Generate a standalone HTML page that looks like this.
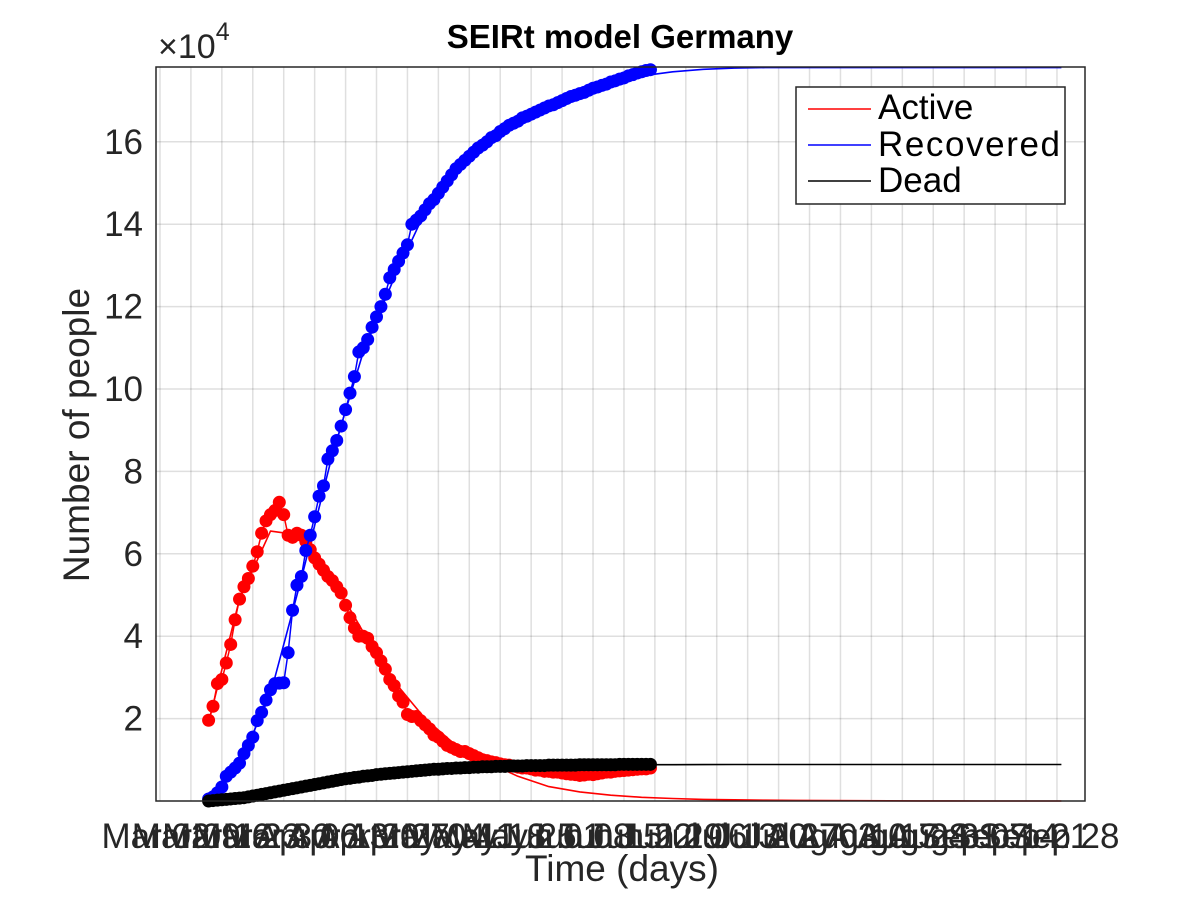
<!DOCTYPE html>
<html><head><meta charset="utf-8"><style>
body{margin:0;background:#fff;}
svg{display:block;font-family:"Liberation Sans",Arial,sans-serif;}
</style></head><body>
<svg id="chart" width="1200" height="900" viewBox="0 0 1200 900" xmlns="http://www.w3.org/2000/svg">
<rect width="1200" height="900" fill="#fff"/>
<g id="grid"></g>
<g id="series"></g>
<rect x="156" y="67" width="929" height="734" fill="none" stroke="#262626" stroke-width="1.5"/>
<g id="ticks"></g>
<text x="620" y="48" text-anchor="middle" font-size="33" font-weight="bold" fill="#000">SEIRt model Germany</text>
<text x="158" y="58" font-size="34" fill="#262626">×10<tspan dy="-18" font-size="25">4</tspan></text>
<text x="622" y="881" text-anchor="middle" font-size="37" fill="#262626">Time (days)</text>
<text transform="translate(89,435) rotate(-90)" text-anchor="middle" font-size="37" fill="#262626">Number of people</text>
<g>
<rect x="796" y="87" width="269" height="117" fill="#fff" stroke="#262626" stroke-width="1.5"/>
<line x1="808" y1="109" x2="871" y2="109" stroke="#f00" stroke-width="1.5"/>
<text x="878" y="119" font-size="35" fill="#000">Active</text>
<line x1="808" y1="145" x2="871" y2="145" stroke="#00f" stroke-width="1.5"/>
<text x="878" y="156" font-size="35" fill="#000" textLength="182">Recovered</text>
<line x1="808" y1="181" x2="871" y2="181" stroke="#000" stroke-width="1.5"/>
<text x="878" y="192" font-size="35" fill="#000">Dead</text>
</g>
</svg>
<script>
// observed data: day index = obsStartDay + i, values in units of 1e4 people
const obsStartDay = 11;
const activeObs = [1.96,2.3,2.85,2.95,3.35,3.8,4.4,4.9,5.2,5.4,5.7,6.05,6.5,6.8,6.95,7.05,7.25,6.95,6.45,6.4,6.5,6.45,6.3,6.1,5.9,5.75,5.6,5.45,5.35,5.2,5.05,4.75,4.45,4.2,4.0,4.0,3.95,3.75,3.6,3.4,3.2,2.95,2.8,2.55,2.4,2.1,2.05,2.05,1.95,1.85,1.75,1.6,1.55,1.45,1.35,1.3,1.25,1.2,1.2,1.15,1.1,1.05,1.0,0.98,0.95,0.93,0.9,0.88,0.87,0.85,0.82,0.8,0.8,0.78,0.75,0.75,0.72,0.72,0.7,0.7,0.68,0.66,0.65,0.64,0.62,0.63,0.65,0.64,0.66,0.68,0.7,0.7,0.72,0.73,0.74,0.75,0.76,0.77,0.78,0.78,0.8];
const recoveredObs = [0.05,0.1,0.2,0.34,0.6,0.7,0.8,0.92,1.15,1.35,1.55,1.95,2.15,2.45,2.7,2.85,2.86,2.87,3.6,4.63,5.24,5.45,6.08,6.45,6.9,7.4,7.65,8.3,8.5,8.75,9.1,9.5,9.9,10.3,10.9,11.0,11.2,11.5,11.75,12.0,12.3,12.7,12.9,13.1,13.3,13.5,14.0,14.1,14.2,14.35,14.5,14.6,14.75,14.9,15.05,15.2,15.35,15.45,15.55,15.65,15.75,15.85,15.92,16.0,16.1,16.15,16.25,16.32,16.4,16.45,16.5,16.58,16.62,16.67,16.72,16.77,16.82,16.87,16.9,16.95,17.0,17.05,17.1,17.13,17.17,17.2,17.25,17.3,17.33,17.37,17.4,17.45,17.48,17.52,17.55,17.6,17.63,17.67,17.7,17.73,17.75];
const deadObs = [0.0,0.01,0.02,0.03,0.04,0.05,0.06,0.07,0.08,0.1,0.12,0.14,0.16,0.18,0.2,0.22,0.24,0.26,0.28,0.3,0.32,0.34,0.36,0.38,0.4,0.42,0.44,0.46,0.48,0.5,0.52,0.54,0.55,0.57,0.58,0.6,0.61,0.62,0.64,0.65,0.66,0.67,0.68,0.69,0.7,0.71,0.72,0.73,0.74,0.75,0.76,0.77,0.77,0.78,0.79,0.79,0.8,0.8,0.81,0.81,0.82,0.82,0.83,0.83,0.83,0.84,0.84,0.84,0.85,0.85,0.85,0.85,0.86,0.86,0.86,0.86,0.86,0.87,0.87,0.87,0.87,0.87,0.87,0.87,0.88,0.88,0.88,0.88,0.88,0.88,0.88,0.88,0.88,0.89,0.89,0.89,0.89,0.89,0.89,0.89,0.89];
// model curves
const modelDays = [11,18,25,32,39,46,53,60,67,74,81,88,95,102,109,116,123,130,137,144,151,158,165,172,179,186,193,200,204];
const activeModel = [1.9,4.9,6.55,6.45,5.4,4.1,2.9,2.0,1.35,0.95,0.6,0.35,0.22,0.14,0.09,0.06,0.04,0.03,0.02,0.015,0.01,0.007,0.005,0.003,0.002,0.001,0.001,0.0,0.0];
const recoveredModel = [0.0,0.9,2.6,5.4,8.4,10.9,12.7,14.3,15.4,16.0,16.5,16.9,17.15,17.4,17.6,17.7,17.76,17.79,17.8,17.8,17.8,17.8,17.8,17.8,17.8,17.8,17.8,17.8,17.8];
const deadModel = [0.0,0.05,0.2,0.35,0.5,0.62,0.72,0.78,0.82,0.85,0.86,0.87,0.875,0.88,0.88,0.882,0.884,0.885,0.885,0.885,0.885,0.885,0.885,0.885,0.885,0.885,0.885,0.885,0.885];
// ticks
const yTicks = [2,4,6,8,10,12,14,16];
const gridDays = [0,7,14,21,28,35,42,49,56,63,70,77,84,91,98,105,112,119,126,133,140,147,154,161,168,175,182,189,196,203];
const xTickLabels = ["Mar 02","Mar 09","Mar 16","Mar 23","Mar 30","Apr 06","Apr 13","Apr 20","Apr 27","May 04","May 11","May 18","May 25","Jun 01","Jun 08","Jun 15","Jun 22","Jun 29","Jul 06","Jul 13","Jul 20","Jul 27","Aug 03","Aug 10","Aug 17","Aug 24","Aug 31","Sep 07","Sep 14","Sep 21","Sep 28"];

const NS = "http://www.w3.org/2000/svg";
const X0 = 160, XS = 30.93/7, AXL = 156, AXR = 1085;
const Y0 = 801, YS = 41.2;
const LBL0 = 156, LBL1 = 1064;
function xs(d){ return X0 + d*XS; }
function ys(v){ return Y0 - v*YS; }
function mk(tag, attrs, parent){ const e=document.createElementNS(NS,tag); for(const k in attrs) e.setAttribute(k,attrs[k]); parent.appendChild(e); return e; }

const grid = document.getElementById('grid');
const ticks = document.getElementById('ticks');
const series = document.getElementById('series');

gridDays.forEach(d=>{
  const x = xs(d);
  if (x > AXL+1 && x < AXR-1) {
    const g = mk('line',{x1:x,y1:67,x2:x,y2:801,stroke:'#262626','stroke-opacity':0.15,'stroke-width':1.5},grid);
    
    
  }
});
xTickLabels.forEach((lab,i)=>{
  const x = LBL0 + (LBL1-LBL0)*i/(xTickLabels.length-1);
  const t = mk('text',{x:x,y:848,'text-anchor':'middle','font-size':35,fill:'#262626'},ticks);
  t.textContent = lab;
  
  
});
yTicks.forEach(v=>{
  const y = ys(v);
  const g = mk('line',{x1:AXL,y1:y,x2:AXR,y2:y,stroke:'#262626','stroke-opacity':0.15,'stroke-width':1.5},grid);
  
  
  const t = mk('text',{x:143,y:y+12,'text-anchor':'end','font-size':35,fill:'#262626'},ticks);
  t.textContent = String(v);
  
  
});

function drawObs(arr, color, name){
  const g = mk('g',{fill:color},series);
  
  
  let pts=[];
  arr.forEach((v,i)=>{
    const x = xs(obsStartDay+i), y = ys(v);
    pts.push(x.toFixed(1)+','+y.toFixed(1));
    const c = mk('circle',{cx:x,cy:y,r:6.5},g);
    
    
  });
  const pl = mk('polyline',{points:pts.join(' '),fill:'none',stroke:color,'stroke-width':1.5},g);
  
  
}
function drawModel(arr, color, name){
  const pts = arr.map((v,i)=>xs(modelDays[i]).toFixed(1)+','+ys(v).toFixed(1)).join(' ');
  const pl = mk('polyline',{points:pts,fill:'none',stroke:color,'stroke-width':1.6,'stroke-linejoin':'round'},series);
  
  
}
drawModel(activeModel,'#f00','active-model-line');
drawModel(recoveredModel,'#00f','recovered-model-line');
drawModel(deadModel,'#000','dead-model-line');
drawObs(activeObs,'#f00','active-observed');
drawObs(recoveredObs,'#00f','recovered-observed');
drawObs(deadObs,'#000','dead-observed');
</script>
</body></html>
